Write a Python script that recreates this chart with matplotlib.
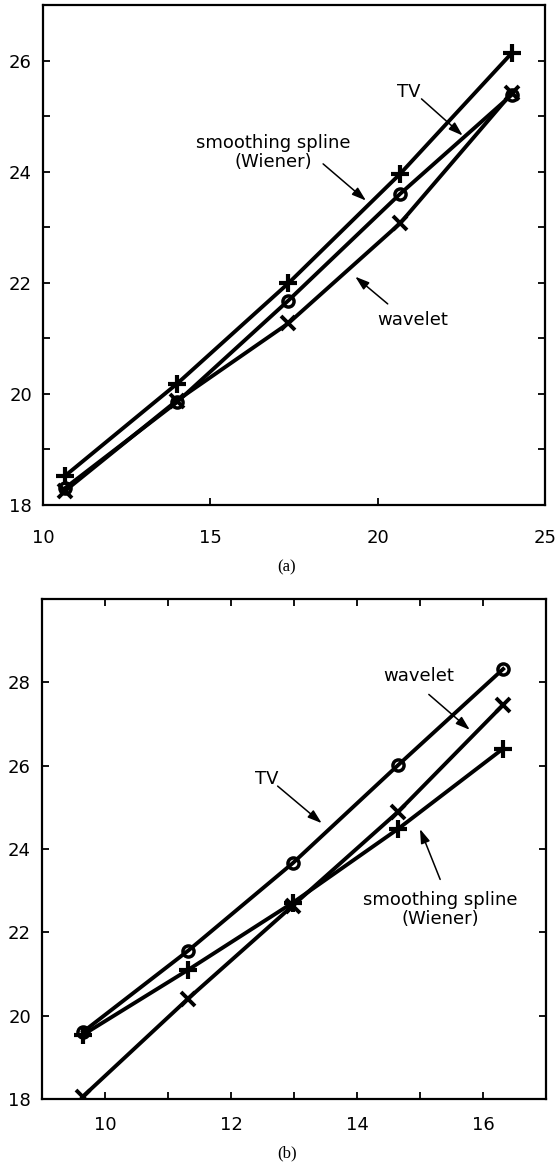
import matplotlib
matplotlib.use('Agg')
import matplotlib.pyplot as plt

# panel (a)
xa = [10.67, 14.0, 17.33, 20.67, 24.0]
spline_a = [18.53, 20.18, 21.99, 23.96, 26.13]
tv_a = [18.31, 19.85, 21.68, 23.60, 25.38]
wavelet_a = [18.26, 19.88, 21.27, 23.07, 25.41]

# panel (b)
xb = [9.65, 11.32, 12.98, 14.65, 16.32]
spline_b = [19.54, 21.10, 22.71, 24.48, 26.41]
tv_b = [19.61, 21.56, 23.66, 26.01, 28.32]
wavelet_b = [18.06, 20.41, 22.64, 24.89, 27.46]

plt.rcParams['font.family'] = ['DejaVu Sans']

fig = plt.figure(figsize=(5.6, 11.67), dpi=100)
ax1 = fig.add_axes([43 / 560, 1 - 505 / 1167, 502 / 560, 500 / 1167])
ax2 = fig.add_axes([42 / 560, 1 - 1099 / 1167, 504 / 560, 500 / 1167])

lw = 2.8
arrow = dict(arrowstyle='-|>,head_length=0.85,head_width=0.28', lw=1.1, color='k',
             mutation_scale=10, shrinkA=0, shrinkB=0)
txt = dict(fontsize=13, ha='center', va='center', linespacing=1.1)


def draw(ax, x, spline, tv, wavelet):
    ax.plot(x, spline, color='k', lw=lw, marker='+', ms=13, mew=3)
    ax.plot(x, tv, color='k', lw=lw, marker='o', ms=8, mew=2.5, fillstyle='none')
    ax.plot(x, wavelet, color='k', lw=lw, marker='x', ms=10, mew=2.8)
    for s in ax.spines.values():
        s.set_linewidth(1.6)
    ax.tick_params(direction='in', length=5, width=1.3, labelsize=13)


# (a)
draw(ax1, xa, spline_a, tv_a, wavelet_a)
ax1.set_xlim(10, 25)
ax1.set_ylim(18, 27)
ax1.set_xticks([10, 15, 20, 25])
ax1.set_yticks(range(18, 27))
ax1.set_yticklabels([str(v) if v % 2 == 0 else '' for v in range(18, 27)])
ax1.tick_params(axis='y', right=True, pad=8)
ax1.tick_params(axis='x', pad=17)
ax1.annotate('', xy=(19.65, 23.48), xytext=(18.37, 24.14), arrowprops=arrow)
ax1.text(16.87, 24.35, 'smoothing spline\n(Wiener)', **txt)
ax1.annotate('', xy=(22.54, 24.65), xytext=(21.31, 25.31), arrowprops=arrow)
ax1.text(20.94, 25.43, 'TV', **txt)
ax1.annotate('', xy=(19.33, 22.11), xytext=(20.3, 21.62), arrowprops=arrow)
ax1.text(21.04, 21.33, 'wavelet', **txt)

# (b)
draw(ax2, xb, spline_b, tv_b, wavelet_b)
ax2.set_xlim(9, 17)
ax2.set_ylim(18, 30)
ax2.set_xticks(range(10, 17))
ax2.set_xticklabels([str(v) if v % 2 == 0 else '' for v in range(10, 17)])
ax2.set_yticks(range(18, 30, 2))
ax2.tick_params(axis='y', right=True, pad=8)
ax2.tick_params(axis='x', top=True, pad=12)
ax2.annotate('', xy=(15.79, 26.86), xytext=(15.14, 27.71), arrowprops=arrow)
ax2.text(14.98, 28.16, 'wavelet', **txt)
ax2.annotate('', xy=(13.44, 24.62), xytext=(12.74, 25.51), arrowprops=arrow)
ax2.text(12.57, 25.67, 'TV', **txt)
ax2.annotate('', xy=(15.0, 24.48), xytext=(15.32, 23.27), arrowprops=arrow)
ax2.text(15.32, 22.55, 'smoothing spline\n(Wiener)', **txt)

fig.text(287 / 560, 1 - 567 / 1167, '(a)', family='Liberation Serif', fontsize=12, ha='center', va='center')
fig.text(287 / 560, 1 - 1153 / 1167, '(b)', family='Liberation Serif', fontsize=12, ha='center', va='center')

fig.savefig('out.png', dpi=100)
